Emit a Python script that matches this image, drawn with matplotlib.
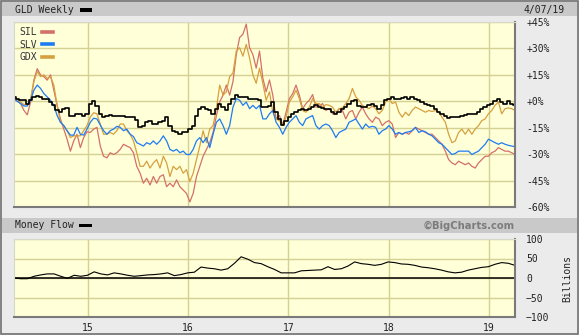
import numpy as np
import pandas as pd
import matplotlib
matplotlib.use("Agg")
import matplotlib.pyplot as plt
import matplotlib.dates as mdates
from matplotlib.lines import Line2D
from matplotlib.patches import Rectangle

# percent change since start, roughly every 12 days
gld = [2.5, 1.2, 0.6, 0.6, -1.3, 0.6, 2.5, 3.1, 2.5, 1.5, 1.2, -0.4, -1.9, -5.2, -6.2, -4.2, -3.8, -8.5, -8.1,
       -7.1, -7.1, -8.1, -7.1, -1.3, 0, -2.7, -7.1, -9, -8.1, -7.7, -8.1, -8.1, -8.5, -8.5, -9, -9, -9, -10.9,
       -14.8, -13.8, -11.9, -11, -12.9, -12.9, -11.9, -11, -9, -13.8, -16.7, -17.7, -18.7, -17.7, -17.7, -15.8,
       -13.8, -8.1, -4.2, -3.3, -4.2, -5.2, -7.1, -4.2, -1.3, -3.3, -5.2, -1.3, 1.5, 3.5, 2.5, 2.5, 2.5, 1.5, 1.5,
       1.5, 0.6, -3.3,
       -3.3, -2.7, -0.4, -6.2, -10, -13.5, -11, -9, -7.1, -6.2, -5.2, -4.2, -5.2, -4.2, -3.3, -2.3, -3.3, -3.8,
       -4.6, -4.2, -6.2, -7.1, -5.8, -4.2, -3.3, -1.3, 0, 0.6, -2.7, -3.3, -3.3, -2.3, -1.3, -2.7, -4.2, -2.3,
       0.6, 1.5,
       2.5, 1.5, 1.5, 1.9, 2.5, 1.5, 2.5, 1.5, 0.6, -0.4, -1.3, -1.9, -2.7, -4.2, -6.2, -7.1, -8.1, -9.6, -9, -9,
       -9, -8.1, -7.7, -7.1, -7.1, -7.1, -5.8, -4.2, -3.3, -2.3, -1.3, 0, 1.5, -0.4, -1.3, 0, -1.3, -1.9]
sil = [1.5, 0, -1.3, -5.2, -7.7, -0.4, 12.1, 18.5, 15, 14, 12, 15, 6.3, -2.3, -10, -15.8, -21.5, -28.3, -22.5,
       -18.7, -26.3, -20.6, -17.3, -17.7, -15.8, -14.8, -25.4, -31.2, -32.1, -29.2, -30.2, -29.2, -27.3, -24.4,
       -25.4, -26.3, -29.2, -36.9,
       -40.8, -46.5, -43.7, -47.5, -42.7, -46.5, -42.7, -41.7, -48.5, -46.5, -48.5, -44.6, -48.5, -50.4, -52.3,
       -57.1, -52.3, -42.7, -36.9, -31.2, -27.3, -23.5, -17.7, -8.1, -0.4, 3.5, 9.2, 3.5, 11.2, 26.5, 36.2, 38.1,
       43.8, 30.4, 26.5, 18.8, 28.5, 13.1,
       5.4, 12.1, 3.5, -10, -8.1, -13.5, -6.2, 1.5, 4.4, 9.2, 3.5, -4.2, -1.3, 0.6, 3.8, -3.3, -2.7, -1.3, -5.2,
       -4.2, -7.1, -7.1, -4.2, -5.2, -10, -6.2, -5.2, -10, -6.2, -3.3, -7.1, -10, -11.9, -9, -10, -13.8, -11.9, -11,
       -12.9, -20.6, -17.7, -18.7, -17.7, -18.7, -16.7, -14.8, -15.8, -16.7, -17.7, -18.7, -18.7, -20.6, -22.5,
       -24.4, -28.3, -33.1, -35, -36, -34, -35, -36, -35, -36.9, -37.9, -35, -33.1, -31.2, -31.2, -29.2, -28.3,
       -26.3, -27.3, -28.3, -28.3, -29.2, -30.2]
slv = [1.5, 0, -1.3, -2.7, -2.7, 0.6, 6.3, 9.2, 7.3, 4.4, 2.5, 0.6, -2.3, -8.1, -11.9, -13.8, -16.7, -19.2, -19.2,
       -14.8, -18.7, -19.2, -15.8, -11.9, -9.6, -10, -13.5, -16.7, -18.7, -16.7, -15.8, -14.2, -14.8, -16.7, -15.8,
       -18.7, -20, -23.5,
       -24.4, -25.4, -23.5, -24.4, -22.5, -24.4, -22.5, -19.6, -22.5, -27.3, -28.3, -27.3, -29.2, -28.3, -30.2,
       -30.2, -27.3, -22.5, -20.6, -23.5, -20.6, -26.3, -18.7, -11.9, -10, -13.8, -18.7, -13.8, -3.3, 1.5, 0.6,
       -2.3, -0.4, -4.2, -2.3, -4.2, -2.3, -10,
       -10, -7.1, -5.2, -11.9, -14.8, -18.7, -14.8, -11.9, -10, -8.1, -11.9, -13.8, -10, -9, -8.1, -13.8, -15.8,
       -13.8, -12.9, -13.8, -16.7, -20.6, -17.7, -16.7, -15.8, -11.9, -11, -10, -12.9, -15.8, -12.9, -14.8, -14.2,
       -14.8, -18.7, -16.7, -15.8, -13.8,
       -15.8, -18.7, -17.7, -18.7, -17.7, -17.3, -16.7, -14.8, -17.7, -16.7, -17.3, -18.7, -19.6, -21.5, -23.5,
       -24.4, -26.3, -28.3, -30.2, -29.6, -28.3, -28.3, -28.3, -28.3, -30.2, -29.2, -28.3, -26.3, -24.4, -21.5,
       -22.5, -23.5, -24.4, -23.5, -24.4, -25, -25.4, -25.8]
gdx = [2.5, 1.2, -0.4, -1.9, -1.9, 1.5, 11.2, 16.9, 14, 15, 13, 14, 9.2, -2.3, -11.9, -13.8, -16.7, -20.6, -19.6,
       -19.6, -19.6, -16.7, -13.8, -9, -6.5, -7.1, -12.9, -18.7, -18.7, -17.7, -18.7, -16.7, -12.9, -12.9, -16.7,
       -18.7, -22.5, -29.2,
       -36.9, -36.9, -34, -37.9, -35, -33.1, -37.9, -31.2, -35, -42.7, -36.9, -38.8, -36.9, -40.8, -38.8, -45.6,
       -40.8, -33.1, -25.4, -16.7, -23.5, -15.8, -13.8, -4.2, 9.2, 3.5, 5.4, 14, 16, 28.5, 30.4, 25.6, 32.3, 24.6,
       15, 10.2, 18.8, 10.2,
       0.6, 5.4, -6.2, -10, -11, -13.8, -9, -0.4, 2.5, 6.3, 1.5, -5.2, -6.2, -3.3, 1.5, -1.3, -1.3, -3.3, -1.9,
       -2.3, -3.3, -6.2, -4.2, -3.8, -1.3, 1.5, 7.3, 2.5, 0.6, -2.3, -3.3, -4.2, -2.7, -4.2, -7.1, -5.2, -0.4, 1.5,
       -1.3, -0.4, -6.2, -9, -6.2, -8.1, -5.2, -3.3, -4.2, -5.2, -6.2, -5.2, -5.8, -5.2, -6.2, -9, -11.9, -18.7,
       -23.5, -22.5, -17.7, -15.8, -18.7, -15.8, -18.7, -15.8, -13.8, -11, -10, -7.1, -5.2, -2.3, -0.4, -7.1, -4.2,
       -3.8, -4.2, -5.2]

# money flow, billions
money_flow = [0, -1.8, -1.8, 4.4, 7.9, 10.5, 10.5, 4.4, -0.9, 7, 4.4, 7, 15.8, 10.5, 7.9, 13.2, 10.5, 7, 4.4,
              6.1, 7.9, 8.8, 10.5, 13.2, 6.1, 8.8, 13.2, 14.9, 28.1, 25.4, 23.7, 20.2, 23.7, 37.7, 54.4, 48.2,
              39.5, 36.8, 28.9, 21.9, 13.2, 13.2,
              13.2, 18.4, 19.3, 20.2, 21, 28.9, 21.9, 23.7, 30.7, 41.2, 36.8, 35.1, 32.4, 35.1, 41.2, 39.5, 36,
              35.1, 32.4, 28.1, 26.3, 23.7, 20.2, 15.8, 13.2, 14.9, 20.2, 23.7, 27.2, 28.9, 35.1, 39.5, 37.7, 32.4]

pct_ticks = [45, 30, 15, 0, -15, -30, -45, -60]
pct_labels = ["+45%", "+30%", "+15%", "+0%", "-15%", "-30%", "-45%", "-60%"]
mf_ticks = [100, 50, 0, -50, -100]
year_labels = ["15", "16", "17", "18", "19"]

start, end = pd.Timestamp("2014-04-07"), pd.Timestamp("2019-04-07")
dates = pd.date_range(start, end, periods=len(gld))
mf_dates = pd.date_range(start, end, periods=len(money_flow))
years = [pd.Timestamp(f"20{y}-01-01") for y in year_labels]

BG = "#ebebeb"
BAR = "#c9c9c9"
PLOT_BG = "#ffffd8"
GRID = "#d5d193"
MONO = "DejaVu Sans Mono"
FS = 7

fig = plt.figure(figsize=(5.79, 3.35), dpi=100, facecolor=BG)

def px(x0, y0, x1, y1):
    # pixel box -> figure fraction rect
    return [x0 / 579, 1 - y1 / 335, (x1 - x0) / 579, (y1 - y0) / 335]

# header bars
for (x0, y0, x1, y1) in [(2, 2, 577, 16), (2, 218, 577, 233)]:
    r = px(x0, y0, x1, y1)
    fig.add_artist(Rectangle((r[0], r[1]), r[2], r[3], transform=fig.transFigure,
                             facecolor=BAR, edgecolor="none", zorder=0))
fig.add_artist(Rectangle((0.001, 0.002), 0.997, 0.996, transform=fig.transFigure,
                         facecolor="none", edgecolor="#707070", lw=1.2, zorder=5))

fig.text(15 / 579, 1 - 10 / 335, "GLD Weekly", family=MONO, fontsize=FS, va="center", color="#222")
fig.text(15 / 579, 1 - 225.5 / 335, "Money Flow", family=MONO, fontsize=FS, va="center", color="#222")
fig.text(523 / 579, 1 - 10 / 335, "4/07/19", family=MONO, fontsize=FS, va="center", color="#222")
fig.text(515 / 579, 1 - 225.5 / 335, "©BigCharts.com", family="DejaVu Sans", fontsize=7.2,
         fontweight="bold", va="center", ha="right", color="#7c7c7c")
for (x0, y0, x1, y1) in [(80, 8, 92, 12), (79, 224, 92, 227)]:
    r = px(x0, y0, x1, y1)
    fig.add_artist(Rectangle((r[0], r[1]), r[2], r[3], transform=fig.transFigure,
                             facecolor="black", edgecolor="none", zorder=3))

ax = fig.add_axes(px(14, 22, 515, 207), facecolor=PLOT_BG)
ax2 = fig.add_axes(px(14, 239, 515, 317), facecolor=PLOT_BG)

def style(a):
    a.set_xlim(start, end)
    a.yaxis.tick_right()
    a.tick_params(length=0, labelsize=FS, pad=8, colors="#222")
    for lab in a.get_yticklabels() + a.get_xticklabels():
        lab.set_family(MONO)
    a.set_xticks(years)
    a.grid(True, color=GRID, lw=1.0)
    a.set_axisbelow(True)
    for s in ["left", "top"]:
        a.spines[s].set_color("#d8d8c8")
        a.spines[s].set_linewidth(0.8)
    for s in ["right", "bottom"]:
        a.spines[s].set_color("#7a7a7a")
        a.spines[s].set_linewidth(1.5)

# top panel: relative performance
ax.plot(dates, sil, color="#d4706a", lw=0.9)
ax.plot(dates, gdx, color="#d6a040", lw=0.9)
ax.plot(dates, slv, color="#1e7cf2", lw=0.9)
ax.plot(dates, gld, color="black", lw=1.2, drawstyle="steps-mid")
ax.set_ylim(-60, 45)
ax.set_yticks(pct_ticks)
ax.set_yticklabels(pct_labels)
style(ax)
ax.set_xticklabels([])
ax.tick_params(axis="y", pad=8)
for lab in ax.get_yticklabels():
    lab.set_family(MONO)

handles = [Line2D([], [], color=c, lw=2.6) for c in ["#d4706a", "#1e7cf2", "#d6a040"]]
leg = ax.legend(handles, ["SIL", "SLV", "GDX"], loc="upper left", frameon=False, markerfirst=False,
                handlelength=1.1, handletextpad=0.5, labelspacing=0.25, borderaxespad=0.15,
                prop={"family": MONO, "size": FS})
for t in leg.get_texts():
    t.set_color("#333")

# bottom panel: money flow
ax2.plot(mf_dates, money_flow, color="black", lw=0.8)
ax2.axhline(0, color="black", lw=1.1)
ax2.set_ylim(-100, 100)
ax2.set_yticks(mf_ticks)
style(ax2)
ax2.set_xticklabels(year_labels)
ax2.tick_params(axis="x", pad=4)
for lab in ax2.get_yticklabels() + ax2.get_xticklabels():
    lab.set_family(MONO)
fig.text(567 / 579, 1 - 278 / 335, "Billions", family=MONO, fontsize=FS, rotation=90,
         va="center", ha="center", color="#222")

fig.savefig("out.png", dpi=100, facecolor=BG)
